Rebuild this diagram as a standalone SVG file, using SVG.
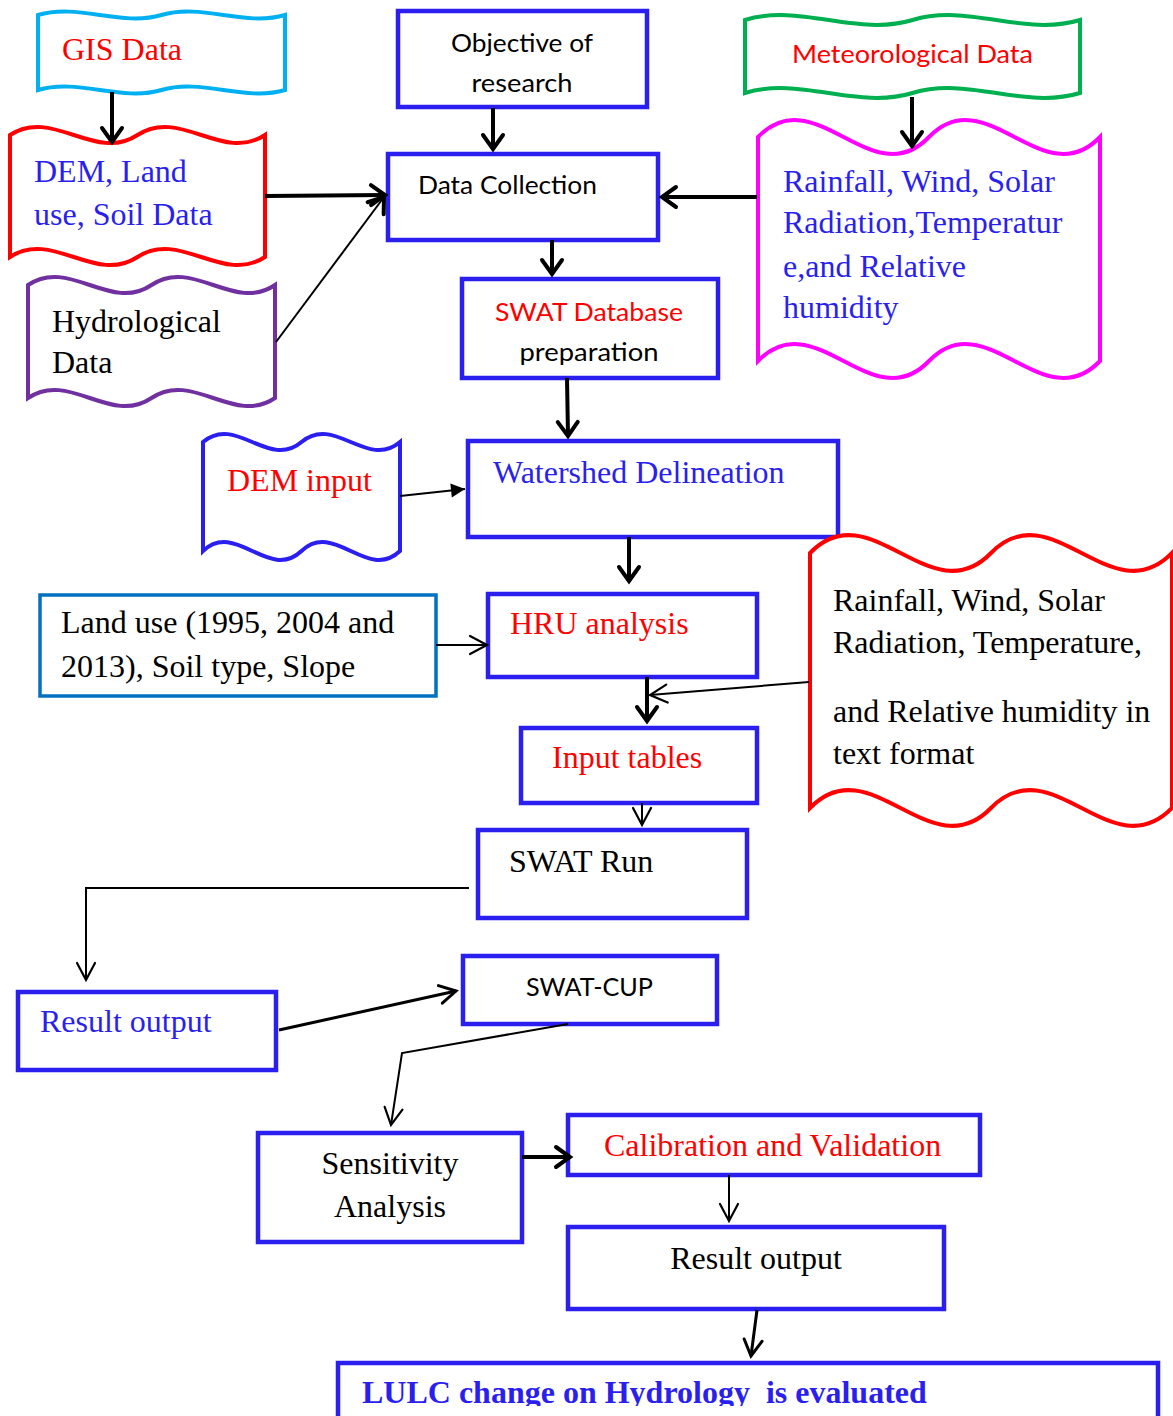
<svg xmlns="http://www.w3.org/2000/svg" width="1173" height="1416" viewBox="0 0 1173 1416">
<defs>
<style>
.bx{fill:#fff;stroke:#2A1FEE;stroke-width:4.5}
.wv{fill:#fff;stroke-width:4;stroke-linejoin:miter}
.sf{font-family:"Liberation Serif","Times New Roman",serif;font-size:32px}
.ss{font-family:Lato,"Liberation Sans",sans-serif;font-size:25px}
.blue{fill:#2A1FEE}
.red{fill:#FF0000}
.blk{fill:#000}
.c4{fill:none;stroke:#000;stroke-width:4}
.c3{fill:none;stroke:#000;stroke-width:3}
.c2{fill:none;stroke:#000;stroke-width:2}
</style>
<marker id="mThick" markerUnits="userSpaceOnUse" viewBox="-20 -14 24 28" refX="0" refY="0" markerWidth="24" markerHeight="28" orient="auto" overflow="visible">
<path d="M-14,-10 L0,0 L-14,10" fill="none" stroke="#000" stroke-width="4" stroke-linecap="round"/>
</marker>
<marker id="mMed" markerUnits="userSpaceOnUse" viewBox="-20 -14 24 28" refX="0" refY="0" markerWidth="24" markerHeight="28" orient="auto" overflow="visible">
<path d="M-16,-9 L0,0 L-16,9" fill="none" stroke="#000" stroke-width="3" stroke-linecap="round"/>
</marker>
<marker id="mThin" markerUnits="userSpaceOnUse" viewBox="-20 -14 24 28" refX="0" refY="0" markerWidth="24" markerHeight="28" orient="auto" overflow="visible">
<path d="M-17,-9 L0,0 L-17,9" fill="none" stroke="#000" stroke-width="2.2" stroke-linecap="round"/>
</marker>
<marker id="mTri" markerUnits="userSpaceOnUse" viewBox="-16 -9 18 18" refX="0" refY="0" markerWidth="18" markerHeight="18" orient="auto" overflow="visible">
<path d="M-14,-7 L0,0 L-14,7 Z" fill="#000"/>
</marker>
<clipPath id="clipBottom"><rect x="0" y="0" width="1173" height="1406"/></clipPath>
</defs>

<g id="n-gis">
<path class="wv" stroke="#00B0F0" d="M38,15 C79.2,3 120.3,27 161.5,15 C202.7,3 243.8,27 285,15 L285,90 C243.8,102 202.7,78 161.5,90 C120.3,102 79.2,78 38,90 Z"/>
<text class="sf red" x="62" y="60">GIS Data</text>
</g>

<g id="n-objective">
<rect class="bx" x="398" y="11" width="249" height="96"/>
<text class="ss blk" x="522" y="52" text-anchor="middle" textLength="142" lengthAdjust="spacingAndGlyphs">Objective of</text>
<text class="ss blk" x="522" y="92" text-anchor="middle" textLength="101" lengthAdjust="spacingAndGlyphs">research</text>
</g>

<g id="n-met">
<path class="wv" stroke="#00B050" d="M745,20 C800.8,3 856.7,37 912.5,20 C968.3,3 1024.2,37 1080,20 L1080,93 C1024.2,110 968.3,76 912.5,93 C856.7,110 800.8,76 745,93 Z"/>
<text class="ss red" x="792" y="63" textLength="241" lengthAdjust="spacingAndGlyphs">Meteorological Data</text>
</g>

<g id="n-demland">
<path class="wv" stroke="#FF0000" d="M10,135 C52.5,107 95,163 137.5,135 C180,107 222.5,163 265,135 L265,257 C222.5,285 180,229 137.5,257 C95,285 52.5,229 10,257 Z"/>
<text class="sf blue" x="34" y="182">DEM, Land</text>
<text class="sf blue" x="34" y="225">use, Soil Data</text>
</g>

<g id="n-datacollection">
<rect class="bx" x="388" y="154" width="270" height="86"/>
<text class="ss blk" x="418" y="194" textLength="179" lengthAdjust="spacingAndGlyphs">Data Collection</text>
</g>

<g id="n-rainfall">
<path class="wv" stroke="#FF00FF" d="M758,137 C815,78 872,196 929,137 C986,78 1043,196 1100,137 L1100,361 C1043,420 986,302 929,361 C872,420 815,302 758,361 Z"/>
<text class="sf blue" x="783" y="192">Rainfall, Wind, Solar</text>
<text class="sf blue" x="783" y="233">Radiation,Temperatur</text>
<text class="sf blue" x="783" y="277">e,and Relative</text>
<text class="sf blue" x="783" y="318">humidity</text>
</g>

<g id="n-hydro">
<path class="wv" stroke="#7030A0" d="M28,285 C69.2,257 110.3,313 151.5,285 C192.7,257 233.8,313 275,285 L275,398 C233.8,426 192.7,370 151.5,398 C110.3,426 69.2,370 28,398 Z"/>
<text class="sf blk" x="52" y="332">Hydrological</text>
<text class="sf blk" x="52" y="373">Data</text>
</g>

<g id="n-swatdb">
<rect class="bx" x="462" y="279" width="256" height="99"/>
<text class="ss red" x="589" y="321" text-anchor="middle" textLength="188" lengthAdjust="spacingAndGlyphs">SWAT Database</text>
<text class="ss blk" x="589" y="361" text-anchor="middle" textLength="139" lengthAdjust="spacingAndGlyphs">preparation</text>
</g>

<g id="n-deminput">
<path class="wv" stroke="#2A1FEE" stroke-width="4.5" d="M203,442 C235.8,414 268.7,470 301.5,442 C334.3,414 367.2,470 400,442 L400,551 C367.2,582 334.3,520 301.5,551 C268.7,582 235.8,520 203,551 Z"/>
<text class="sf red" x="227" y="491">DEM input</text>
</g>

<g id="n-watershed">
<rect class="bx" x="468" y="441" width="370" height="96"/>
<text class="sf blue" x="493" y="483">Watershed Delineation</text>
</g>

<g id="n-textformat">
<path class="wv" stroke="#FF0000" d="M810,553 C870.3,491 930.7,615 991,553 C1051.3,491 1111.7,615 1172,553 L1172,808 C1111.7,870 1051.3,746 991,808 C930.7,870 870.3,746 810,808 Z"/>
<text class="sf blk" x="833" y="611">Rainfall, Wind, Solar</text>
<text class="sf blk" x="833" y="653">Radiation, Temperature,</text>
<text class="sf blk" x="833" y="722">and Relative humidity in</text>
<text class="sf blk" x="833" y="764">text format</text>
</g>

<g id="n-landuse">
<rect x="40" y="595" width="396" height="101" fill="#fff" stroke="#0070C0" stroke-width="3.5"/>
<text class="sf blk" x="61" y="633">Land use (1995, 2004 and</text>
<text class="sf blk" x="61" y="677">2013), Soil type, Slope</text>
</g>

<g id="n-hru">
<rect class="bx" x="488" y="594" width="269" height="83"/>
<text class="sf red" x="510" y="634">HRU analysis</text>
</g>

<g id="n-inputtables">
<rect class="bx" x="521" y="728" width="236" height="75"/>
<text class="sf red" x="552" y="768">Input tables</text>
</g>

<g id="n-swatrun">
<rect class="bx" x="478" y="830" width="269" height="88"/>
<text class="sf blk" x="509" y="872">SWAT Run</text>
</g>

<g id="n-result1">
<rect class="bx" x="18" y="992" width="258" height="78"/>
<text class="sf blue" x="40" y="1032">Result output</text>
</g>

<g id="n-swatcup">
<rect class="bx" x="463" y="956" width="254" height="68"/>
<text class="ss blk" x="526" y="996" textLength="127" lengthAdjust="spacingAndGlyphs">SWAT-CUP</text>
</g>

<g id="n-sensitivity">
<rect class="bx" x="258" y="1133" width="264" height="109"/>
<text class="sf blk" x="390" y="1174" text-anchor="middle">Sensitivity</text>
<text class="sf blk" x="390" y="1217" text-anchor="middle">Analysis</text>
</g>

<g id="n-calibration">
<rect class="bx" x="568" y="1115" width="412" height="60"/>
<text class="sf red" x="604" y="1156">Calibration and Validation</text>
</g>

<g id="n-result2">
<rect class="bx" x="568" y="1227" width="376" height="82"/>
<text class="sf blk" x="756" y="1269" text-anchor="middle">Result output</text>
</g>

<g id="n-lulc">
<rect class="bx" x="338" y="1363" width="820" height="80"/>
<text class="sf blue" x="362" y="1403" font-weight="bold" xml:space="preserve" clip-path="url(#clipBottom)">LULC change on Hydrology  is evaluated</text>
</g>

<g id="connectors">
<path class="c4" d="M112,92 L112,142" marker-end="url(#mThick)"/>
<path class="c4" d="M493,108 L493,149" marker-end="url(#mThick)"/>
<path class="c4" d="M912,97 L912,146" marker-end="url(#mThick)"/>
<path class="c4" d="M265,196 L385,195" marker-end="url(#mThick)"/>
<path class="c2" d="M276,342 L384,197" marker-end="url(#mThick)"/>
<path class="c4" d="M757,197 L662,197" marker-end="url(#mThick)"/>
<path class="c4" d="M552,240 L552,274" marker-end="url(#mThick)"/>
<path class="c4" d="M567,378 L568,436" marker-end="url(#mThick)"/>
<path class="c2" d="M400,496 L465,489" marker-end="url(#mTri)"/>
<path class="c4" d="M629,537 L629,581" marker-end="url(#mThick)"/>
<path class="c2" d="M436,645 L487,645" marker-end="url(#mThin)"/>
<path class="c4" d="M647,677 L647,721" marker-end="url(#mThick)"/>
<path class="c2" d="M809,682 L650,695" marker-end="url(#mThin)"/>
<path class="c2" d="M642,803 L642,825" marker-end="url(#mThin)"/>
<path class="c2" d="M469,888 L86,888 L86,980" marker-end="url(#mThin)"/>
<path class="c3" d="M279,1030 L456,991" marker-end="url(#mMed)"/>
<path class="c2" d="M568,1024 L402,1053 L391,1125" marker-end="url(#mThin)"/>
<path class="c4" d="M522,1157 L570,1157" marker-end="url(#mThick)"/>
<path class="c2" d="M729,1175 L729,1221" marker-end="url(#mThin)"/>
<path class="c3" d="M757,1310 L751,1356" marker-end="url(#mMed)"/>
</g>
</svg>
